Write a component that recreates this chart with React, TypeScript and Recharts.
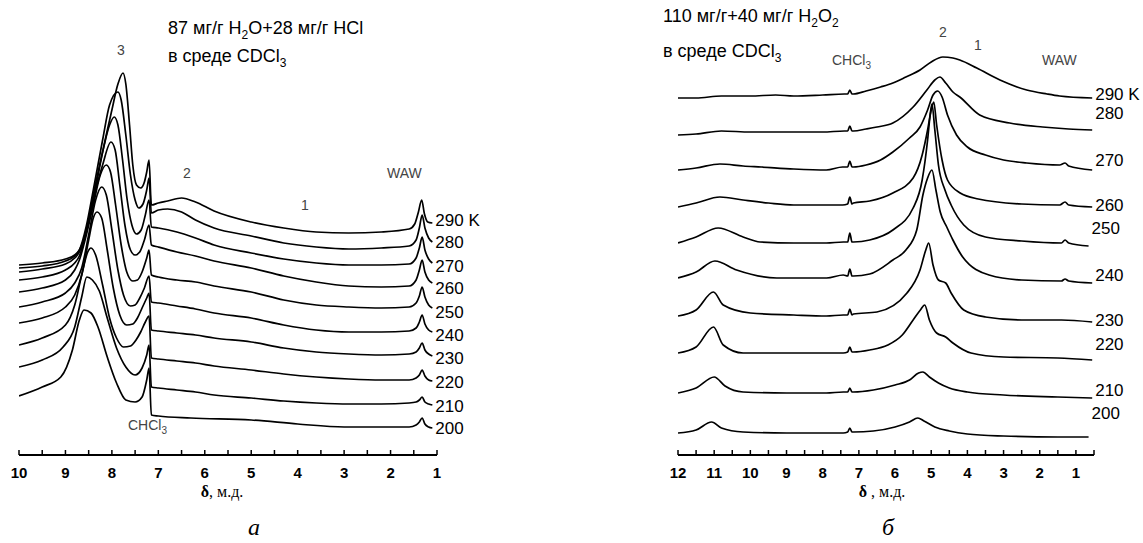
import React from 'react';
import { LineChart, Line, XAxis, YAxis } from 'recharts';

// ---------- axis ticks ----------
const leftTicks = [10, 9.5, 9, 8.5, 8, 7.5, 7, 6.5, 6, 5.5, 5, 4.5, 4, 3.5, 3, 2.5, 2, 1.5, 1];
const rightTicks = [12, 11.5, 11, 10.5, 10, 9.5, 9, 8.5, 8, 7.5, 7, 6.5, 6, 5.5, 5, 4.5, 4, 3.5, 3, 2.5, 2, 1.5, 1, 0.5];

// ---------- temperature labels ----------
const temps = ['290 K', '280', '270', '260', '250', '240', '230', '220', '210', '200'];

// ---------- panel a: 87 mg/g H2O + 28 mg/g HCl (ppm, stacked intensity) ----------
const a290: [number, number][] = [[10,190],[9.5,192],[9,196],[8.8,200],[8.7,205],[8.55,223],[8.4,255],[8.2,303],[8,345],[7.87,371],[7.76,382],[7.7,371],[7.62,330],[7.55,290],[7.47,270],[7.38,267],[7.3,273],[7.25,283],[7.2,295],[7.15,250],[7,252],[6.8,254],[6.5,257],[6.2,253],[5.8,244],[5,233],[4.3,227],[3.6,223],[2.9,222],[2.2,223],[1.6,226],[1.48,231],[1.4,243],[1.33,255],[1.27,241],[1.2,233],[1.1,232]];
const a280: [number, number][] = [[10,187],[9.5,189],[9,194],[8.8,199],[8.7,205],[8.55,229],[8.4,265],[8.2,315],[8.05,350],[7.87,363],[7.8,355],[7.7,320],[7.6,280],[7.5,255],[7.42,247],[7.33,251],[7.25,265],[7.2,277],[7.15,242],[7,245],[6.8,246],[6.5,243],[6.2,235],[5.8,227],[5,219],[4.3,212],[3.6,208],[2.9,206],[2.2,207],[1.6,209],[1.45,215],[1.38,227],[1.32,240],[1.26,227],[1.18,217],[1.1,213]];
const a270: [number, number][] = [[10,183],[9.5,186],[9,191],[8.8,197],[8.7,203],[8.55,225],[8.4,260],[8.2,303],[8.05,330],[7.95,338],[7.87,330],[7.77,295],[7.67,255],[7.57,230],[7.47,221],[7.37,225],[7.28,240],[7.2,255],[7.15,228],[7,227],[6.6,223],[6.2,217],[5.8,210],[5,202],[4.3,196],[3.6,192],[2.9,190],[2.2,190],[1.6,191],[1.45,197],[1.38,207],[1.32,218],[1.26,205],[1.18,196],[1.1,192]];
const a260: [number, number][] = [[10,175],[9.5,178],[9,185],[8.8,192],[8.7,199],[8.55,223],[8.4,255],[8.2,290],[8.02,313],[7.93,305],[7.83,270],[7.72,230],[7.6,205],[7.5,200],[7.4,203],[7.3,215],[7.2,230],[7.15,210],[7,208],[6.6,203],[6.2,199],[5.8,194],[5,187],[4.3,179],[3.6,173],[2.9,169],[2.2,168],[1.6,169],[1.45,175],[1.38,185],[1.32,195],[1.26,183],[1.18,175],[1.1,172]];
const a250: [number, number][] = [[10,163],[9.5,167],[9,175],[8.8,185],[8.7,195],[8.55,220],[8.4,250],[8.25,280],[8.12,290],[8.03,283],[7.92,250],[7.8,210],[7.68,183],[7.55,174],[7.45,175],[7.35,183],[7.25,197],[7.2,205],[7.15,180],[7,178],[6.6,175],[6.2,173],[5.8,169],[5,163],[4.3,155],[3.6,150],[2.9,148],[2.2,147],[1.6,148],[1.45,152],[1.38,159],[1.32,168],[1.26,158],[1.18,150],[1.1,147]];
const a240: [number, number][] = [[10,148],[9.5,153],[9,162],[8.8,172],[8.65,187],[8.5,220],[8.35,255],[8.22,268],[8.12,260],[8,225],[7.87,185],[7.75,160],[7.6,149],[7.5,150],[7.4,157],[7.3,167],[7.2,179],[7.15,153],[7,152],[6.6,149],[6.2,146],[5.8,142],[5,137],[4.3,130],[3.6,125],[2.9,123],[2.2,123],[1.6,124],[1.45,127],[1.38,133],[1.32,140],[1.26,131],[1.18,125],[1.1,123]];
const a230: [number, number][] = [[10,132],[9.5,137],[9,148],[8.8,160],[8.65,180],[8.5,215],[8.4,237],[8.32,243],[8.22,237],[8.1,205],[7.97,167],[7.83,140],[7.68,130],[7.55,131],[7.45,137],[7.35,147],[7.25,157],[7.2,162],[7.15,125],[7,124],[6.6,122],[6.2,120],[5.8,117],[5,113],[4.3,107],[3.6,103],[2.9,101],[2.2,100],[1.6,101],[1.45,103],[1.38,107],[1.32,112],[1.26,105],[1.18,101],[1.1,99]];
const a220: [number, number][] = [[10,110],[9.5,117],[9,130],[8.8,150],[8.65,180],[8.52,203],[8.45,207],[8.35,200],[8.2,170],[8.05,137],[7.9,117],[7.75,108],[7.6,109],[7.48,115],[7.38,123],[7.28,133],[7.2,139],[7.15,97],[7,96],[6.6,94],[6.2,92],[5.8,89],[5,85],[4.3,81],[3.6,78],[2.9,76],[2.2,75],[1.6,75],[1.45,77],[1.38,80],[1.32,85],[1.26,79],[1.18,75],[1.1,74]];
const a210: [number, number][] = [[10,88],[9.5,95],[9.05,108],[8.8,128],[8.65,158],[8.54,178],[8.42,175],[8.27,164],[8.1,137],[7.9,107],[7.7,88],[7.5,80],[7.35,87],[7.25,100],[7.2,110],[7.15,68],[7,67],[6.6,65],[6.2,63],[5.8,60],[5,57],[4.3,54],[3.6,52],[2.9,51],[2.2,51],[1.6,52],[1.45,53],[1.38,55],[1.32,58],[1.26,53],[1.18,51],[1.1,50]];
const a200: [number, number][] = [[10,59],[9.5,68],[9.1,78],[8.85,105],[8.7,135],[8.6,145],[8.45,142],[8.3,128],[8.1,98],[7.9,72],[7.7,55],[7.5,53],[7.35,58],[7.25,75],[7.2,87],[7.15,40],[7,39],[6.3,37],[5,35],[4,31],[3,28],[2.2,28],[1.6,28],[1.45,30],[1.38,33],[1.32,37],[1.26,31],[1.18,28],[1.1,27]];

// ---------- panel b: 110 mg/g + 40 mg/g H2O2 ----------
const b290: [number, number][] = [[12,357],[11.5,357],[10.8,359],[10,359],[9.3,360],[8.8,359],[8,360],[7.4,361],[7.31,361],[7.25,365],[7.19,361],[7.15,361],[6.8,364],[6.4,368],[6.06,372],[5.7,378],[5.31,385],[5,393],[4.68,398],[4.4,397],[4.21,395],[3.74,387],[3.1,375],[2.36,365],[1.8,361],[1.45,359],[0.55,357]];
const b280: [number, number][] = [[12,320],[11.5,321],[10.8,324],[10,323],[9,323],[8,323],[7.4,324],[7.31,324],[7.25,329],[7.19,324],[7.15,324],[6.8,326],[6.5,328],[6.06,332],[5.5,348],[5.12,365],[4.9,375],[4.76,378],[4.6,372],[4.4,363],[4.21,358],[3.66,340],[2.83,332],[1.92,328],[1.2,326],[0.55,325]];
const b270: [number, number][] = [[12,285],[11.5,287],[10.84,291],[10.2,289],[9.7,288],[8.8,286],[7.9,285],[7.45,288],[7.31,288],[7.25,294],[7.19,288],[7.15,288],[6.8,290],[6.4,295],[6.06,303],[5.6,317],[5.31,328],[5.1,345],[4.95,360],[4.82,364],[4.7,358],[4.55,340],[4.3,320],[4,308],[3.5,300],[3,295],[2.36,292],[1.45,290],[1.3,292],[1.2,289],[0.55,285]];
const b260: [number, number][] = [[12,248],[11.5,252],[10.84,258],[10.2,255],[9.5,252],[8.8,250],[7.9,250],[7.45,250],[7.31,251],[7.25,258],[7.19,251],[7.15,252],[6.7,254],[6.06,262],[5.5,277],[5.25,300],[5.1,325],[5,345],[4.93,353],[4.85,330],[4.7,295],[4.55,275],[4.2,262],[3.7,256],[2.5,251],[1.45,250],[1.3,253],[1.2,250],[0.55,248]];
const b250: [number, number][] = [[12,212],[11.5,218],[10.89,227],[10.2,218],[9.73,213],[8.8,212],[7.9,212],[7.43,213],[7.31,213],[7.25,222],[7.19,213],[7.15,213],[6.7,215],[6.06,225],[5.5,247],[5.25,275],[5.1,315],[5.03,340],[4.98,351],[4.9,325],[4.8,290],[4.62,265],[4.45,250],[4.1,230],[3.5,218],[2.5,214],[1.4,212],[1.3,215],[1.2,212],[0.65,209]];
const b240: [number, number][] = [[12,177],[11.5,183],[10.98,194],[10.38,185],[9.27,177],[7.89,177],[7.43,180],[7.31,179],[7.25,186],[7.19,179],[7.15,179],[6.7,181],[6.06,195],[5.7,205],[5.4,225],[5.23,260],[5.1,277],[4.98,285],[4.87,265],[4.75,243],[4.57,228],[4.4,215],[4.13,198],[3.4,180],[2.5,175],[1.4,174],[1.3,176],[1.2,174],[0.55,172]];
const b230: [number, number][] = [[12,139],[11.5,145],[11.02,163],[10.75,150],[10,142],[8.8,140],[7.9,139],[7.43,140],[7.31,140],[7.25,146],[7.19,140],[7.15,141],[6.5,143],[5.67,162],[5.31,185],[5.15,205],[5.07,212],[4.95,190],[4.8,175],[4.6,172],[4.45,162],[4.1,145],[3.5,138],[2.5,135],[1.4,135],[0.55,133]];
const b220: [number, number][] = [[12,102],[11.5,108],[11.02,128],[10.75,110],[10.2,102],[9,102],[7.9,102],[7.43,102],[7.31,103],[7.25,108],[7.19,103],[7.15,103],[6.7,105],[6.2,110],[5.8,120],[5.5,135],[5.3,145],[5.18,150],[5.05,135],[4.85,122],[4.6,118],[4.4,112],[3.9,102],[3,98],[1.5,97],[0.55,95]];
const b210: [number, number][] = [[12,62],[11.5,67],[11,78],[10.7,69],[10.2,63],[9,62],[7.9,62],[7.43,63],[7.31,63],[7.25,67],[7.19,63],[7.15,63],[6.6,65],[6,70],[5.6,75],[5.35,82],[5.23,83],[5.05,78],[4.8,72],[4.5,67],[4,63],[3,60],[1.5,58],[0.55,57]];
const b200: [number, number][] = [[12,22],[11.5,25],[11.07,33],[10.8,27],[10.2,23],[9,22],[7.9,22],[7.43,22],[7.31,23],[7.25,27],[7.19,23],[7.15,23],[6.6,24],[6,28],[5.6,33],[5.37,37],[5.2,34],[4.9,28],[4.5,24],[4,21],[3,19],[1.5,18],[0.65,18]];

const leftSeries = [a290, a280, a270, a260, a250, a240, a230, a220, a210, a200];
const rightSeries = [b290, b280, b270, b260, b250, b240, b230, b220, b210, b200];

// label vertical nudges (layout only)
const leftLabelDy = [-3, 0, 3, 5, 4, 3, 2, 1, 1, 0];
const rightLabelDy = [-4, -17, -10, -2, -18, -8, -2, -16, -8, -24];

const SANS = 'Arial, "Liberation Sans", Helvetica, sans-serif';
const SERIF = '"Times New Roman", "Liberation Serif", serif';

const AxisTick = (props: any) => {
  const { x, y, payload } = props;
  const v = payload.value as number;
  const major = Number.isInteger(v);
  return (
    <g>
      <line x1={x} x2={x} y1={y} y2={y - 5} stroke="#000" strokeWidth={1.5} />
      {major && (
        <text x={x} y={y + 23} textAnchor="middle" fontFamily={SANS} fontWeight="bold" fontSize={15} fill="#000">
          {v}
        </text>
      )}
    </g>
  );
};

type PanelProps = {
  series: [number, number][][];
  domain: [number, number];
  ticks: number[];
  labelDy: number[];
  left: number;
  width: number;
  margin: { top: number; right: number; bottom: number; left: number };
};

const Panel = ({ series, domain, ticks, labelDy, left, width, margin }: PanelProps) => (
  <div style={{ position: 'absolute', left, top: 0 }}>
    <LineChart width={width} height={543} margin={margin}>
      <XAxis
        dataKey="x"
        type="number"
        domain={domain}
        allowDataOverflow
        reversed
        ticks={ticks}
        interval={0}
        height={40}
        tickLine={false}
        tickSize={0}
        tickMargin={0}
        axisLine={{ stroke: '#000', strokeWidth: 2 }}
        tick={<AxisTick />}
      />
      <YAxis hide type="number" domain={[0, 400]} allowDataOverflow />
      {series.map((pts, i) => {
        const data = pts.map(([x, y]) => ({ x, y }));
        const last = data.length - 1;
        return (
          <Line
            key={temps[i]}
            data={data}
            dataKey="y"
            type="monotone"
            stroke="#000"
            strokeWidth={1.7}
            dot={false}
            activeDot={false}
            isAnimationActive={false}
            label={(p: any) =>
              p.index === last ? (
                <text
                  key={'lbl' + i}
                  x={p.x + 3}
                  y={p.y + labelDy[i]}
                  dominantBaseline="central"
                  fontFamily={SANS}
                  fontSize={17}
                  fill="#000"
                >
                  {temps[i]}
                </text>
              ) : (
                <g key={'n' + i + '-' + p.index} />
              )
            }
          />
        );
      })}
    </LineChart>
  </div>
);

const Sub = ({ children, size = 12, dy = 5 }: any) => (
  <>
    <tspan dy={dy} fontSize={size}>{children}</tspan>
  </>
);

const Overlay = () => (
  <svg width={1143} height={543} style={{ position: 'absolute', left: 0, top: 0, pointerEvents: 'none' }}>
    {/* panel a titles */}
    <text x={168} y={34} fontFamily={SANS} fontSize={18} fill="#000">
      87 мг/г H<Sub>2</Sub><tspan dy={-5}>O+28 мг/г HCl</tspan>
    </text>
    <text x={168} y={62} fontFamily={SANS} fontSize={18} fill="#000">
      в среде CDCl<Sub>3</Sub>
    </text>
    {/* panel a annotations */}
    <g fontFamily={SANS} fontSize={14} fill="#444">
      <text x={121} y={55} textAnchor="middle">3</text>
      <text x={187} y={178} textAnchor="middle">2</text>
      <text x={305} y={210} textAnchor="middle">1</text>
      <text x={387} y={178}>WAW</text>
      <text x={128} y={430}>CHCl<Sub size={10} dy={4}>3</Sub></text>
    </g>
    {/* panel b titles */}
    <text x={663} y={22} fontFamily={SANS} fontSize={18} fill="#000">
      110 мг/г+40 мг/г H<Sub>2</Sub><tspan dy={-5}>O</tspan><Sub>2</Sub>
    </text>
    <text x={663} y={57} fontFamily={SANS} fontSize={18} fill="#000">
      в среде CDCl<Sub>3</Sub>
    </text>
    <g fontFamily={SANS} fontSize={14} fill="#444">
      <text x={943} y={37} textAnchor="middle">2</text>
      <text x={978} y={50} textAnchor="middle">1</text>
      <text x={832} y={65}>CHCl<Sub size={10} dy={4}>3</Sub></text>
      <text x={1042} y={65}>WAW</text>
    </g>
    {/* axis titles */}
    <text x={222} y={497} textAnchor="middle" fontFamily={SERIF} fontSize={16} fill="#000">
      <tspan fontWeight="bold">δ</tspan>, м.д.
    </text>
    <text x={882} y={497} textAnchor="middle" fontFamily={SERIF} fontSize={16} fill="#000">
      <tspan fontWeight="bold">δ</tspan> , м.д.
    </text>
    <text x={254} y={535} textAnchor="middle" fontFamily={SERIF} fontStyle="italic" fontSize={24} fill="#000">а</text>
    <text x={888} y={535} textAnchor="middle" fontFamily={SERIF} fontStyle="italic" fontSize={24} fill="#000">б</text>
  </svg>
);

export default function App() {
  return (
    <div style={{ position: 'absolute', left: 0, top: 0, width: 1143, height: 543, background: '#fff', overflow: 'hidden' }}>
      <Panel
        series={leftSeries}
        domain={[1, 10]}
        ticks={leftTicks}
        labelDy={leftLabelDy}
        left={0}
        width={480}
        margin={{ top: 55, right: 43, bottom: 48, left: 19 }}
      />
      <Panel
        series={rightSeries}
        domain={[0.5, 12]}
        ticks={rightTicks}
        labelDy={rightLabelDy}
        left={600}
        width={543}
        margin={{ top: 55, right: 49, bottom: 48, left: 78 }}
      />
      <Overlay />
    </div>
  );
}
